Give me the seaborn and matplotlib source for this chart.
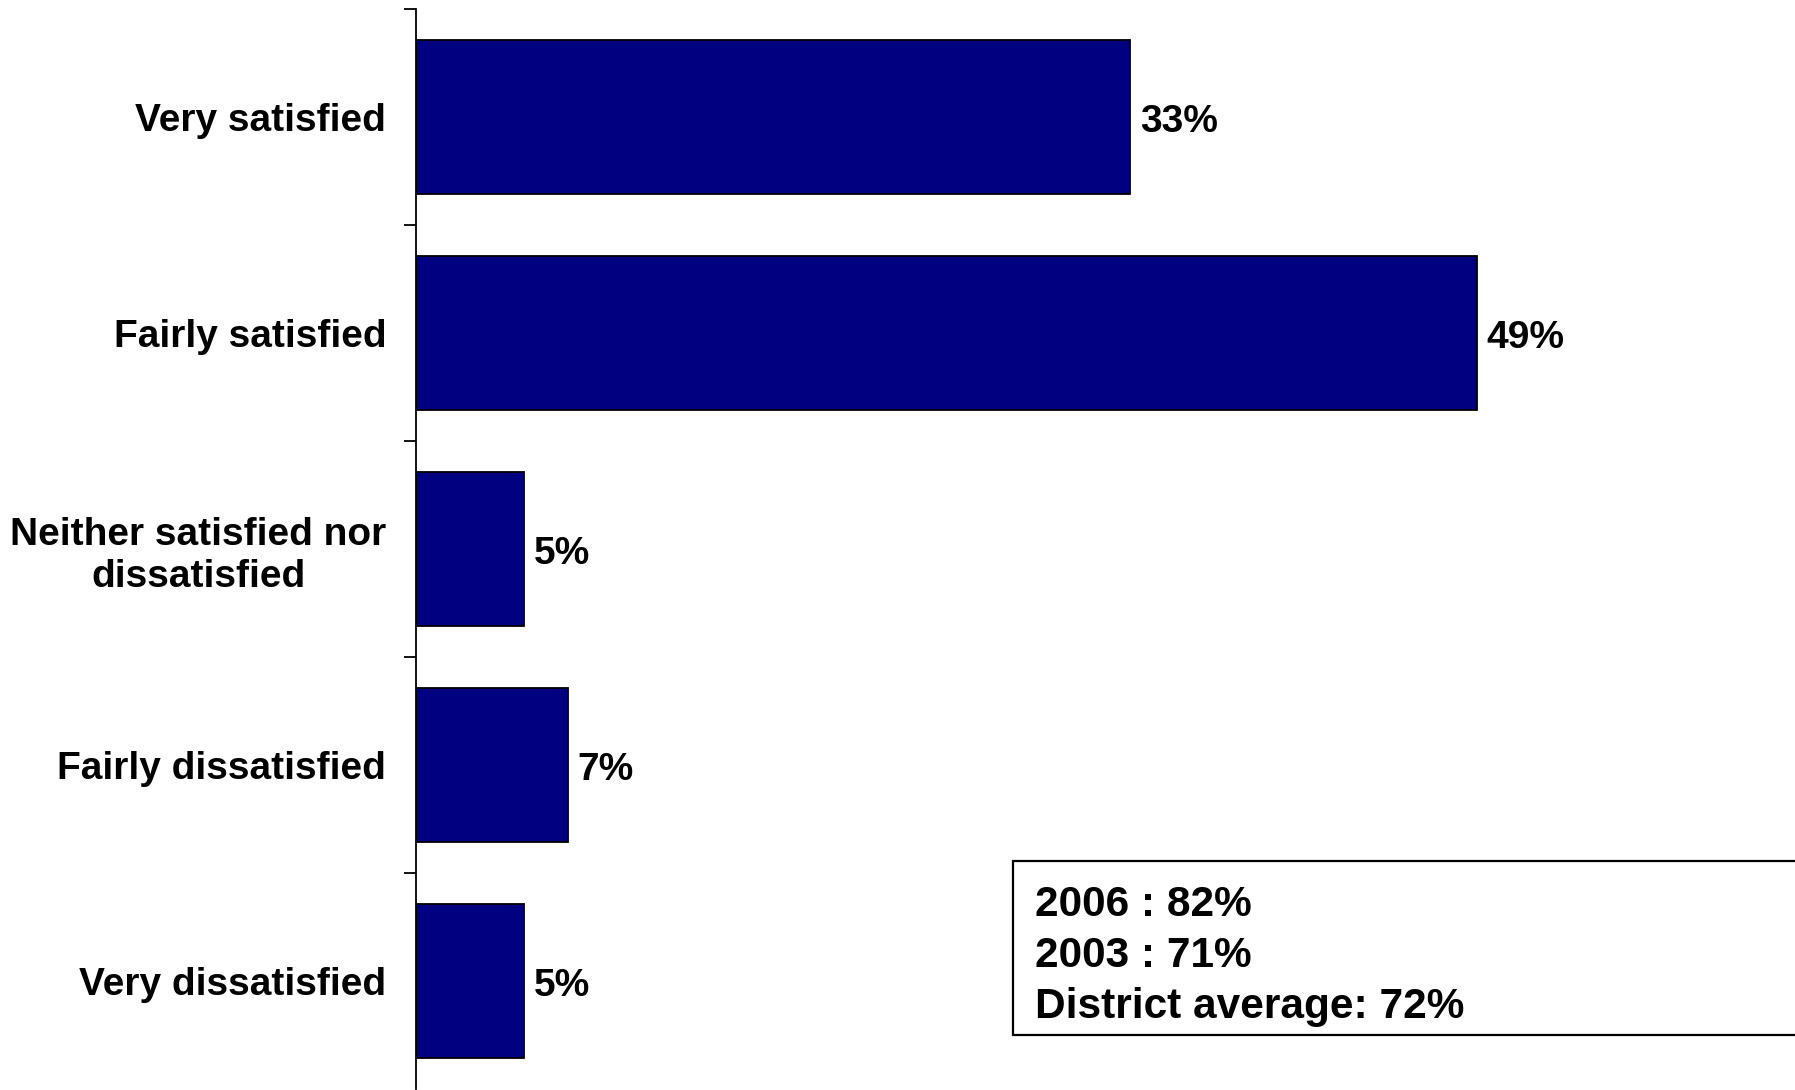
import numpy as np
import pandas as pd
import matplotlib
matplotlib.use('Agg')
import matplotlib.pyplot as plt
import seaborn as sns
from matplotlib.patches import Rectangle

# data
categories = ['Very satisfied', 'Fairly satisfied', 'Neither satisfied nor\ndissatisfied',
              'Fairly dissatisfied', 'Very dissatisfied']
values = [33, 49, 5, 7, 5]
summary_lines = ['2006 : 82%', '2003 : 71%', 'District average: 72%']

df = pd.DataFrame({'category': categories, 'pct': values})

sns.set_style('white')
plt.rcParams['font.family'] = ['Liberation Sans', 'DejaVu Sans']
plt.rcParams['font.weight'] = 'bold'
plt.rcParams['text.color'] = 'black'
plt.rcParams['ytick.color'] = 'black'
plt.rcParams['ytick.labelcolor'] = 'black'

W, H = 1795, 1090
fig = plt.figure(figsize=(W / 100, H / 100), dpi=100)
ax = fig.add_axes([416 / W, 0.8 / H, 1 - 416 / W, 1080 / H])

sns.barplot(data=df, x='pct', y='category', orient='h', color='#000080',
            saturation=1, width=0.715, edgecolor='black', linewidth=1.3, ax=ax)

ax.set_xlim(0, 63.7)
ax.set_ylim(4.5, -0.5)
ax.set_xlabel('')
ax.set_ylabel('')
ax.set_xticks([])

# ticks between categories, labels centred on bars
ax.set_yticks(np.arange(len(categories)))
ax.set_yticklabels(categories, fontsize=28, fontweight='bold', multialignment='center', color='black')
ax.tick_params(axis='y', which='major', length=0, pad=21.5)
ax.set_yticks(np.arange(len(categories)) - 0.5, minor=True)
ax.tick_params(axis='y', which='minor', length=9, width=1.3, color='black', left=True)

for side in ['top', 'right', 'bottom']:
    ax.spines[side].set_visible(False)
ax.spines['left'].set_color('black')
ax.spines['left'].set_linewidth(1.3)

for i, v in enumerate(values):
    ax.annotate(f'{v}%', xy=(v, i), xytext=(7, -3.5), textcoords='offset points',
                ha='left', va='center', fontsize=28, fontweight='bold', color='black')

# summary box
box = Rectangle((1013 / W, 1 - 1035 / H), 0.6, (1035 - 861) / H, transform=fig.transFigure,
                facecolor='white', edgecolor='black', linewidth=1.6, clip_on=False)
fig.patches.append(box)
for line, yb in zip(summary_lines, [916, 967, 1018]):
    fig.text(1035 / W, 1 - yb / H, line, fontsize=30.5, fontweight='bold', va='baseline',
             ha='left', color='black')

fig.savefig('out.png', dpi=100)
